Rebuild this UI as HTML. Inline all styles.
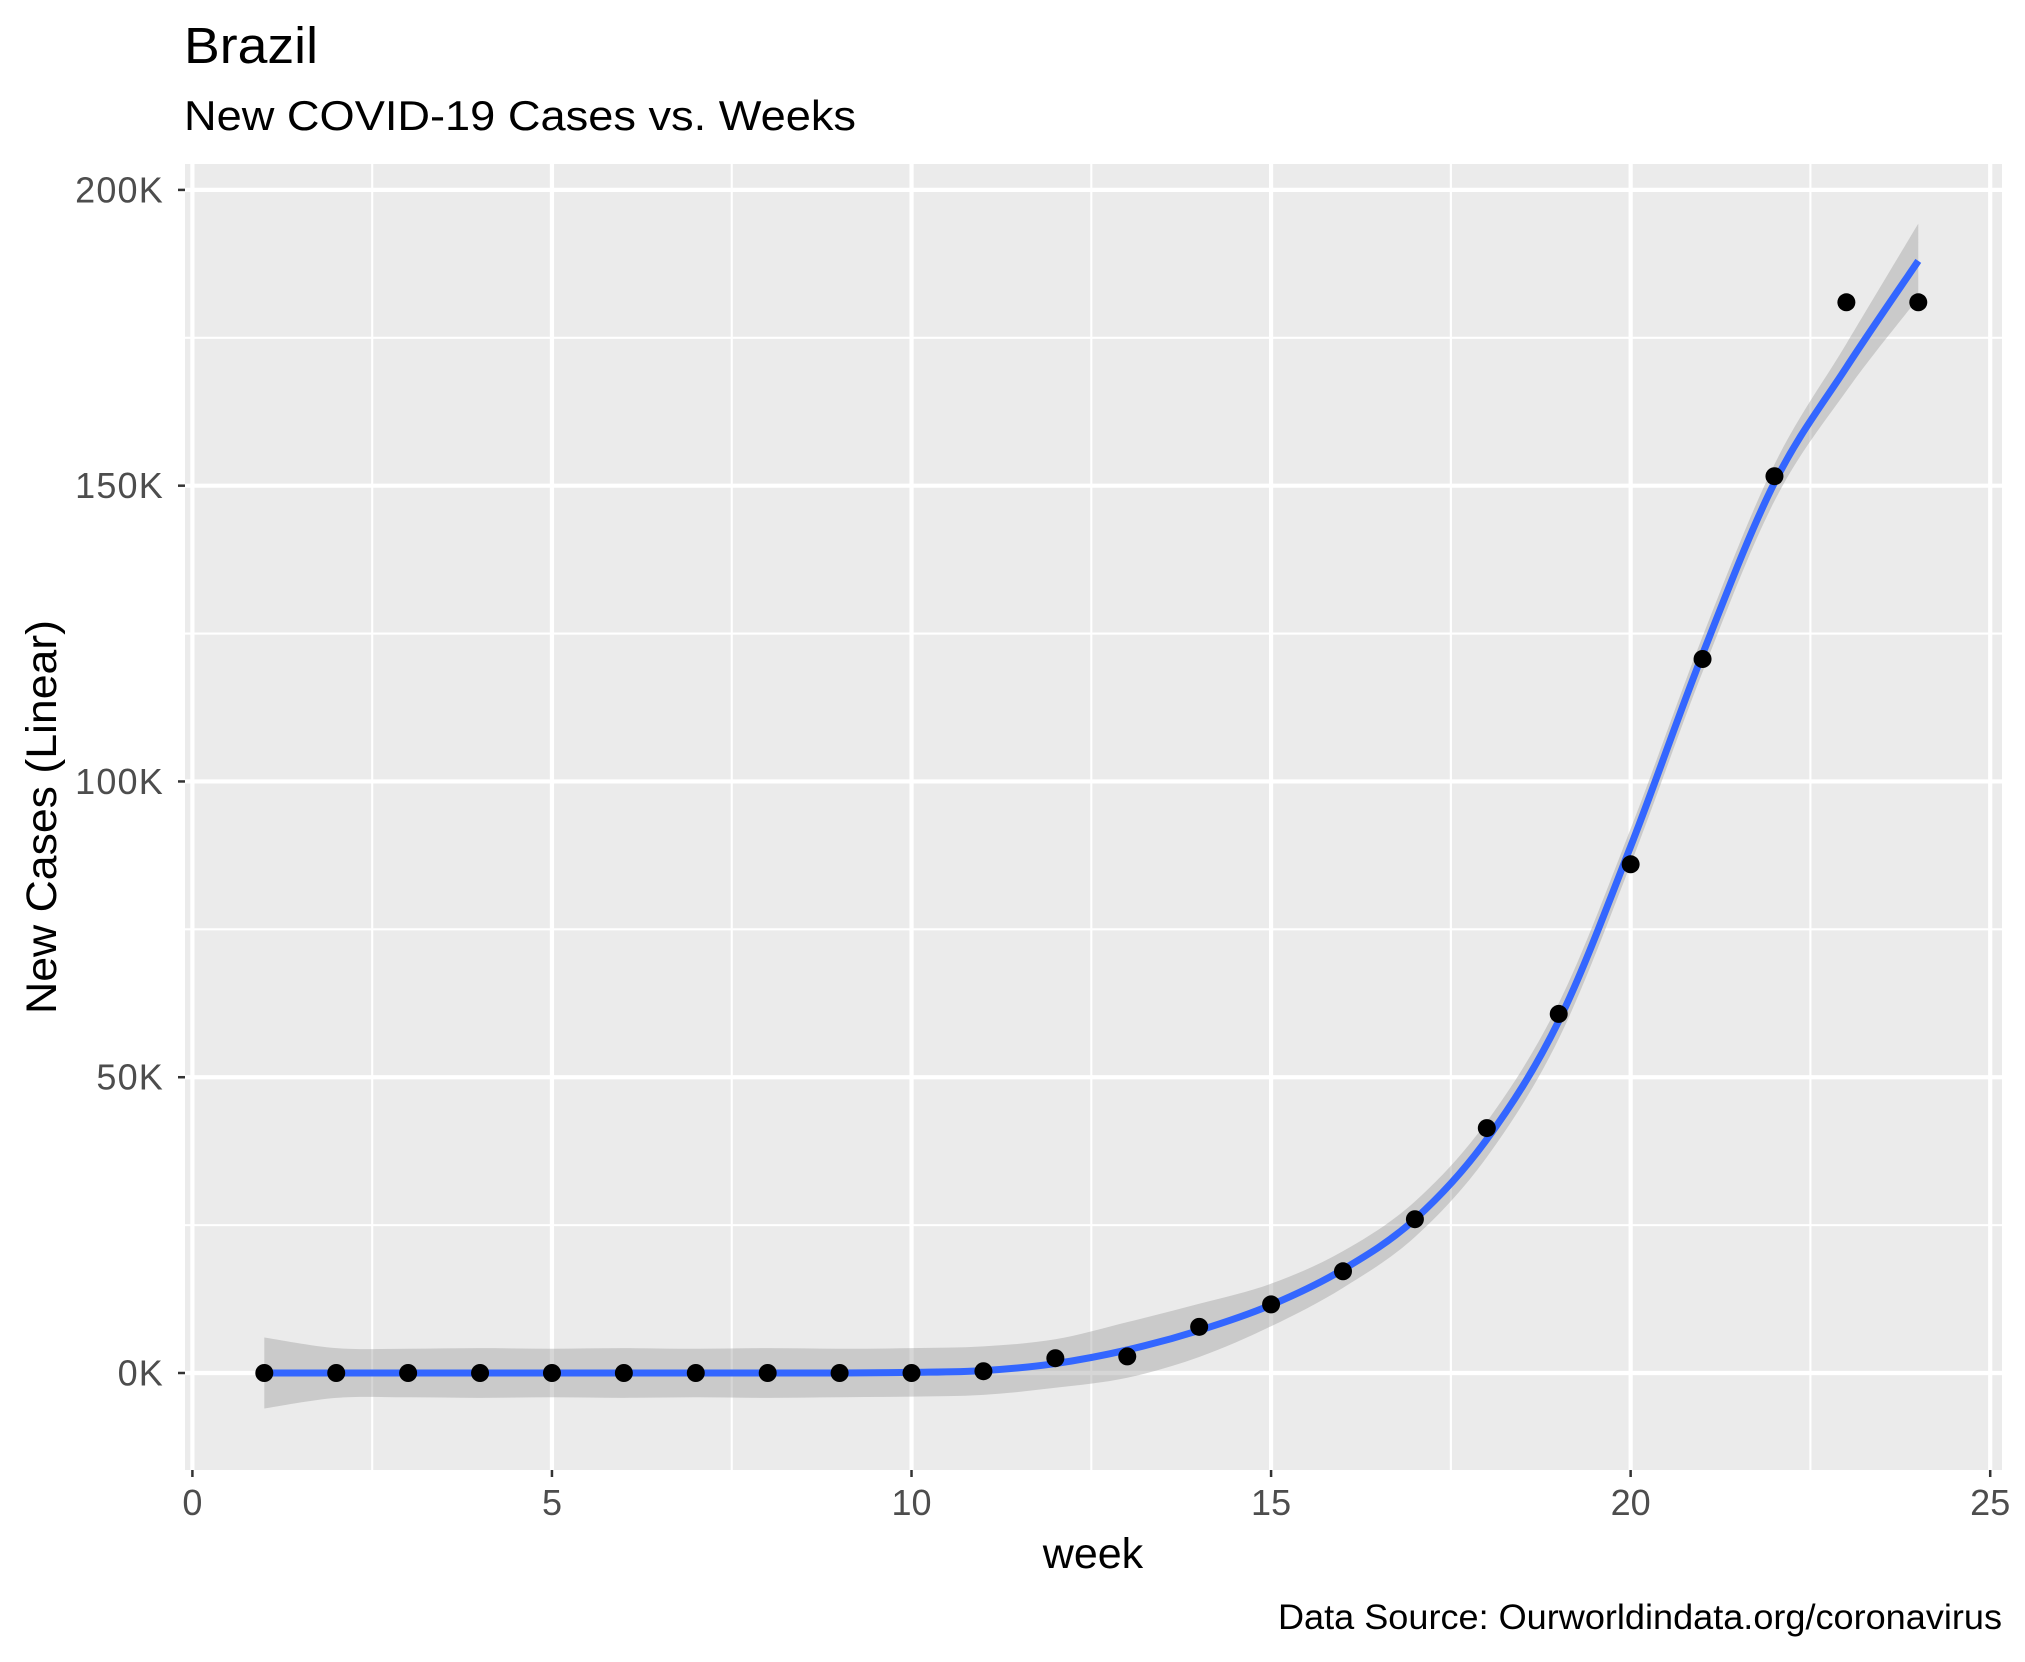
<!DOCTYPE html>
<html><head><meta charset="utf-8"><style>
html,body{margin:0;padding:0;background:#fff;}
svg{display:block;font-family:"Liberation Sans",Arial,sans-serif;}
</style></head><body>
<svg id="chart" width="2025" height="1662" viewBox="0 0 2025 1662" xmlns="http://www.w3.org/2000/svg">
<text x="184" y="63" font-size="51" fill="#000" textLength="134" lengthAdjust="spacingAndGlyphs">Brazil</text>
<text x="184" y="130" font-size="42" fill="#000" textLength="672" lengthAdjust="spacingAndGlyphs">New COVID-19 Cases vs. Weeks</text>
<rect x="185" y="164" width="1817" height="1306" fill="#EBEBEB"/>
<g id="grid"></g>
<g id="ribbon"></g>
<g id="line"></g>
<g id="points"></g>
<g id="axes"></g>
<text x="1093" y="1568" font-size="43" text-anchor="middle" fill="#000">week</text>
<text transform="translate(56,817) rotate(-90)" font-size="43" text-anchor="middle" fill="#000" textLength="394" lengthAdjust="spacingAndGlyphs">New Cases (Linear)</text>
<text x="1278" y="1629" font-size="35" fill="#000" textLength="724" lengthAdjust="spacingAndGlyphs">Data Source: Ourworldindata.org/coronavirus</text>
</svg>
<script>
const weeks = [1,2,3,4,5,6,7,8,9,10,11,12,13,14,15,16,17,18,19,20,21,22,23,24];
const newCases = [0,0,0,0,0,0,0,0,0,0,300,2500,2800,7800,11600,17200,26000,41400,60700,86000,120700,151600,181000,181000];
const smoothFit = [0,0,0,0,0,0,0,0,0,100,400,1600,3900,7200,11500,17500,26000,39500,59500,89000,121500,150500,170000,188000];
const ribbonHalf = [6000,4200,4100,4200,4100,4200,4100,4200,4100,4100,4100,4100,4700,4500,3600,3100,3000,3000,3000,3000,3000,3100,4000,6300];
const xTicks = [0,5,10,15,20,25];
const xTickLabels = ["0","5","10","15","20","25"];
const yTicks = [0,50000,100000,150000,200000];
const yTickLabels = ["0K","50K","100K","150K","200K"];
const xMinor = [2.5,7.5,12.5,17.5,22.5];
const yMinor = [25000,75000,125000,175000];

const NS="http://www.w3.org/2000/svg";
const X0=192.4, X25=1990.2, Y0=1373, Y200=189.9;
const PL=185, PR=2002, PT=164, PB=1470;
function xs(v){return X0+(X25-X0)*v/25;}
function ys(v){return Y0+(Y200-Y0)*v/200000;}
function mk(tag,attrs,parent){const e=document.createElementNS(NS,tag);for(const k in attrs)e.setAttribute(k,attrs[k]);parent.appendChild(e);return e;}
function catmull(pts){
  let d="M"+pts[0][0]+","+pts[0][1];
  for(let i=0;i<pts.length-1;i++){
    const p0=pts[Math.max(i-1,0)],p1=pts[i],p2=pts[i+1],p3=pts[Math.min(i+2,pts.length-1)];
    const c1=[p1[0]+(p2[0]-p0[0])/6,p1[1]+(p2[1]-p0[1])/6];
    const c2=[p2[0]-(p3[0]-p1[0])/6,p2[1]-(p3[1]-p1[1])/6];
    d+=" C"+c1[0]+","+c1[1]+" "+c2[0]+","+c2[1]+" "+p2[0]+","+p2[1];
  }
  return d;
}
const grid=document.getElementById('grid');
xMinor.forEach(v=>{const l=mk('line',{x1:xs(v),x2:xs(v),y1:PT,y2:PB,stroke:'#fff','stroke-width':2.1},grid);

});
yMinor.forEach(v=>{const l=mk('line',{x1:PL,x2:PR,y1:ys(v),y2:ys(v),stroke:'#fff','stroke-width':2.1},grid);

});
xTicks.forEach(v=>{const l=mk('line',{x1:xs(v),x2:xs(v),y1:PT,y2:PB,stroke:'#fff','stroke-width':4.2},grid);

});
yTicks.forEach(v=>{const l=mk('line',{x1:PL,x2:PR,y1:ys(v),y2:ys(v),stroke:'#fff','stroke-width':4.2},grid);

});

const upper=weeks.map((w,i)=>[xs(w),ys(smoothFit[i]+ribbonHalf[i])]);
const lower=weeks.map((w,i)=>[xs(w),ys(smoothFit[i]-ribbonHalf[i])]).reverse();
let dr=catmull(upper)+" L"+lower[0][0]+","+lower[0][1]+catmull(lower).replace(/^M[^ ]+/,"")+" Z";
const rib=mk('path',{d:dr,fill:'#999999','fill-opacity':0.4},document.getElementById('ribbon'));



const ptsG=document.getElementById('points');
weeks.forEach((w,i)=>{const c=mk('circle',{cx:xs(w),cy:ys(newCases[i]),r:9,fill:'#000'},ptsG);

});

const fit=mk('path',{d:catmull(weeks.map((w,i)=>[xs(w),ys(smoothFit[i])])),fill:'none',stroke:'#3366FF','stroke-width':7},document.getElementById('line'));



const ax=document.getElementById('axes');
xTicks.forEach((v,i)=>{
  const t=mk('line',{x1:xs(v),x2:xs(v),y1:PB,y2:PB+7,stroke:'#333','stroke-width':2.5},ax);
  
  
  const tx=mk('text',{x:xs(v),y:1515,'font-size':36,'text-anchor':'middle',fill:'#4D4D4D'},ax);
  tx.textContent=xTickLabels[i];
  
  
});
yTicks.forEach((v,i)=>{
  const t=mk('line',{x1:PL-7,x2:PL,y1:ys(v),y2:ys(v),stroke:'#333','stroke-width':2.5},ax);
  
  
  const tx=mk('text',{x:PL-21,y:ys(v)+12.5,'font-size':36,'text-anchor':'end',fill:'#4D4D4D','letter-spacing':'1.2'},ax);
  tx.textContent=yTickLabels[i];
  
  
});
</script>
</body></html>
